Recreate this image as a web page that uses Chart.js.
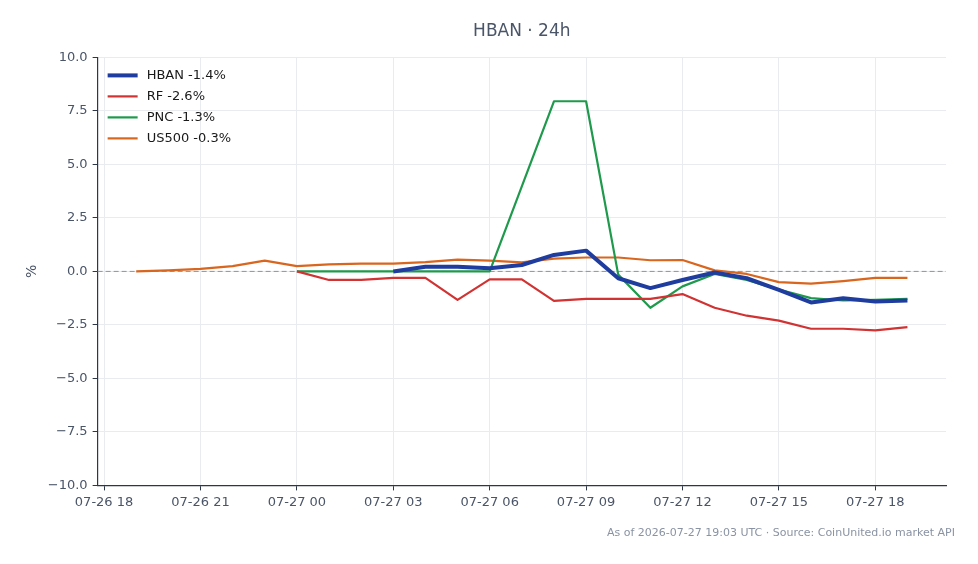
<!DOCTYPE html>
<html>
<head>
<meta charset="utf-8">
<script src="https://cdn.jsdelivr.net/npm/chart.js@4"></script>
<style>
  html, body { margin: 0; padding: 0; background: #fff; }
  #wrap { width: 978px; height: 564px; }
</style>
</head>
<body>
<div id="wrap"><canvas id="chart" width="978" height="564"></canvas></div>
<script>
// hours counted from 07-26 00:00 (UTC)
const hours = [19, 20, 21, 22, 23, 24, 25, 26, 27, 28, 29, 30, 31, 32, 33, 34, 35, 36, 37, 38, 39, 40, 41, 42, 43];

const hban  = [null, null, null, null, null, null, null, null, 0.0, 0.22, 0.22, 0.15, 0.3, 0.77, 0.97, -0.32, -0.78, -0.4, -0.05, -0.32, -0.86, -1.45, -1.25, -1.41, -1.36];
const rf    = [null, null, null, null, null, 0.0, -0.4, -0.4, -0.3, -0.3, -1.33, -0.37, -0.37, -1.38, -1.28, -1.28, -1.28, -1.06, -1.7, -2.07, -2.3, -2.68, -2.68, -2.76, -2.6];
const pnc   = [null, null, null, null, null, 0.0, 0.0, 0.0, 0.0, 0.0, 0.0, 0.0, 3.97, 7.95, 7.95, -0.15, -1.7, -0.7, -0.12, -0.4, -0.85, -1.25, -1.36, -1.33, -1.28];
const us500 = [0.0, 0.05, 0.12, 0.25, 0.5, 0.25, 0.33, 0.36, 0.36, 0.43, 0.55, 0.5, 0.42, 0.6, 0.65, 0.65, 0.52, 0.53, 0.05, -0.12, -0.5, -0.57, -0.45, -0.3, -0.3];

const seriesNames = ["HBAN -1.4%", "RF -2.6%", "PNC -1.3%", "US500 -0.3%"];
const xTicks = [18, 21, 24, 27, 30, 33, 36, 39, 42];
const yTicks = [-10, -7.5, -5, -2.5, 0, 2.5, 5, 7.5, 10];
const footer = "As of 2026-07-27 19:03 UTC \u00b7 Source: CoinUnited.io market API";

const pts = (vals) => hours.map((h, i) => ({ x: h, y: vals[i] }));

function hourLabel(v) {
  const day = 26 + Math.floor(v / 24);
  const hh = v % 24;
  return "07-" + day + " " + String(hh).padStart(2, "0");
}

const zeroLine = {
  id: "zeroLine",
  beforeDatasetsDraw(chart) {
    const { ctx, chartArea, scales } = chart;
    const y = scales.y.getPixelForValue(0);
    ctx.save();
    ctx.strokeStyle = "#8795aa";
    ctx.lineWidth = 1;
    ctx.setLineDash([5, 3]);
    ctx.beginPath();
    ctx.moveTo(chartArea.left, y);
    ctx.lineTo(chartArea.right, y);
    ctx.stroke();
    ctx.restore();
  }
};

// legend inside the plot, top-left (like matplotlib's upper left)
const insideLegend = {
  id: "insideLegend",
  afterDatasetsDraw(chart) {
    const { ctx, chartArea } = chart;
    ctx.save();
    ctx.font = "13px 'DejaVu Sans'";
    ctx.textBaseline = "middle";
    chart.data.datasets.forEach((ds, i) => {
      const y = chartArea.top + 18 + i * 21;
      const x = chartArea.left + 10;
      ctx.strokeStyle = ds.borderColor;
      ctx.lineWidth = ds.borderWidth;
      ctx.beginPath();
      ctx.moveTo(x, y);
      ctx.lineTo(x + 30, y);
      ctx.stroke();
      ctx.fillStyle = "#1a1a1a";
      ctx.fillText(ds.label, x + 39, y);
    });
    ctx.restore();
  }
};

const footerText = {
  id: "footerText",
  afterDraw(chart) {
    const ctx = chart.ctx;
    ctx.save();
    ctx.font = "11px 'DejaVu Sans'";
    ctx.fillStyle = "#8a93a3";
    ctx.textAlign = "right";
    ctx.textBaseline = "middle";
    ctx.fillText(footer, 955, 533);
    ctx.restore();
  }
};

const font = { family: "'DejaVu Sans'", size: 13 };

new Chart(document.getElementById("chart").getContext("2d"), {
  type: "line",
  data: {
    datasets: [
      { label: seriesNames[0], data: pts(hban), borderColor: "#1f3d9e", borderWidth: 4 },
      { label: seriesNames[1], data: pts(rf), borderColor: "#d13333", borderWidth: 2.2 },
      { label: seriesNames[2], data: pts(pnc), borderColor: "#1f9a4c", borderWidth: 2.2 },
      { label: seriesNames[3], data: pts(us500), borderColor: "#d9661f", borderWidth: 2.2 },
    ],
  },
  options: {
    responsive: false,
    animation: false,
    spanGaps: false,
    elements: { point: { radius: 0 }, line: { tension: 0, borderJoinStyle: "round" } },
    layout: { padding: { left: 24, right: 32, top: 15, bottom: 50 } },
    plugins: {
      title: {
        display: true,
        text: "HBAN \u00b7 24h",
        color: "#4a5568",
        font: { family: "'DejaVu Sans'", size: 17, weight: "normal" },
        fullSize: false,
        padding: { top: 6, bottom: 16 },
      },
      legend: { display: false },
      tooltip: { enabled: false },
    },
    scales: {
      x: {
        type: "linear",
        min: 17.8,
        max: 44.2,
        afterBuildTicks: (axis) => { axis.ticks = xTicks.map(v => ({ value: v })); },
        ticks: { callback: (v) => hourLabel(v), color: "#4a5568", font: font, maxRotation: 0, padding: 4 },
        grid: { color: "#e8ebef", tickColor: "#2d3748", tickLength: 5 },
        border: { color: "#2d3748", width: 1.2 },
      },
      y: {
        min: -10,
        max: 10,
        afterBuildTicks: (axis) => { axis.ticks = yTicks.map(v => ({ value: v })); },
        ticks: { callback: (v) => v.toFixed(1).replace("-", "\u2212"), color: "#4a5568", font: font, padding: 5 },
        grid: { color: "#e8ebef", tickColor: "#2d3748", tickLength: 5 },
        border: { color: "#2d3748", width: 1.2 },
        title: { display: true, text: "%", color: "#4a5568", font: { family: "'DejaVu Sans'", size: 14 }, padding: { top: 0, bottom: 2 } },
      },
    },
  },
  plugins: [zeroLine, insideLegend, footerText],
});
</script>
</body>
</html>
